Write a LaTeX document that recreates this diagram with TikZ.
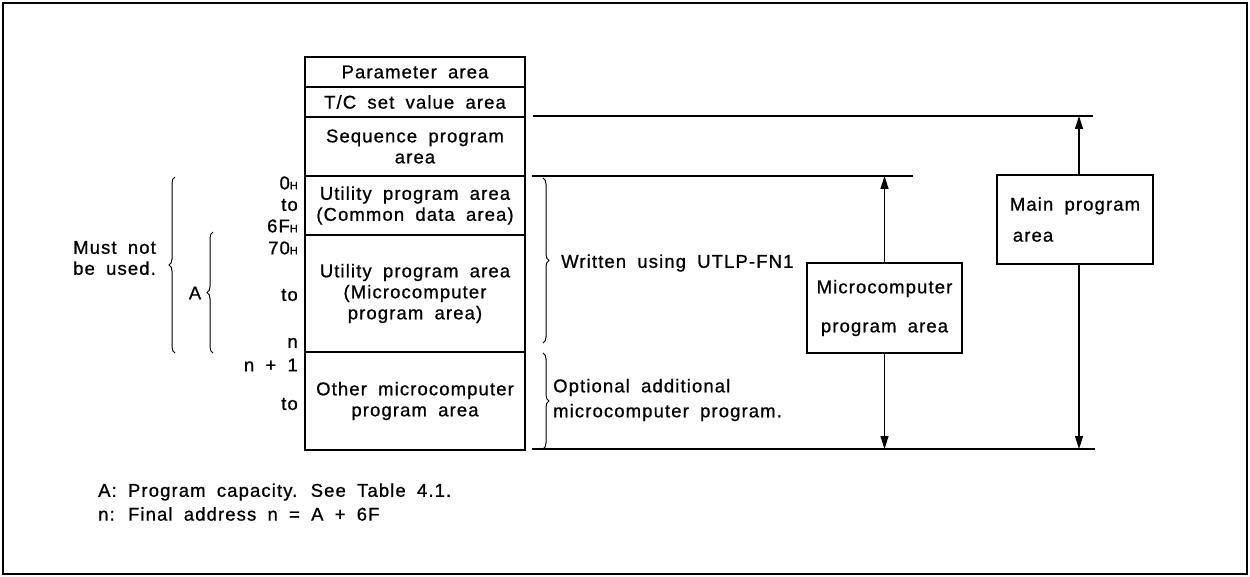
\documentclass[tikz,border=0pt]{standalone}
\usepackage{fontspec}
\setmainfont[LetterSpace=6,WordSpace=1.8,FakeBold=0.8]{Liberation Sans}
\usetikzlibrary{arrows.meta,decorations.pathreplacing}

% small subscript H used for hexadecimal addresses
\newcommand\hexH{{\fontsize{11}{11}\selectfont H}}

\begin{document}
\begin{tikzpicture}[x=1pt,y=-1pt,
  every node/.style={font=\fontsize{18.5}{21}\selectfont, inner sep=0pt},
  memrow/.style={draw, line width=2.2pt, minimum width=220pt, align=center},
  areabox/.style={draw, line width=2pt},
  guide/.style={line width=1.3pt},
  dimarrow/.style={line width=1.3pt, -{Triangle[length=13pt,width=8pt]}},
  curly/.style={line width=1pt, decorate, decoration={brace, amplitude=6pt}},
  addr/.style={anchor=east},
  note/.style={anchor=west, align=left},
]
\useasboundingbox (0,0) rectangle (1250,577);
\draw[line width=1.5pt] (3,3) rectangle (1247,574);

% memory map column
\node[memrow, minimum height=30pt]  (param)  at (415,72)    {Parameter area};
\node[memrow, minimum height=30pt]  (tc)     at (415,102)   {T/C set value area};
\node[memrow, minimum height=59pt]  (seq)    at (415,146.5) {Sequence program\\area};
\node[memrow, minimum height=59pt]  (util)   at (415,205.5) {Utility program area\\(Common data area)};
\node[memrow, minimum height=117pt] (micarea) at (415,293.5) {Utility program area\\(Microcomputer\\program area)};
\node[memrow, minimum height=98pt]  (other)  at (415,401)   {Other microcomputer\\program area};

% addresses
\node[addr] (a0)  at (298,183) {0\hexH};
\node[addr] (a1)  at (298,205) {to};
\node[addr] (a2)  at (298,226) {6F\hexH};
\node[addr] (a3)  at (298,248) {70\hexH};
\node[addr] (a4)  at (298,295) {to};
\node[addr] (a5)  at (298,343) {n};
\node[addr] (a6)  at (298,365) {n + 1};
\node[addr] (a7)  at (298,404) {to};

% left braces
\draw[curly] (175,353) -- (175,177);
\draw[curly] (213,353) -- (213,232);
\node[note] (mustnot) at (73,258) {Must not\\be used.};
\node (capA) at (195,293) {A};

% right braces
\draw[curly] (543,178) -- (543,343);
\draw[curly] (543,353) -- (543,449);
\node[note] (written) at (561,263) {Written using UTLP-FN1};
\node[note, font=\fontsize{18.5}{25}\selectfont] (optional) at (553,400) {Optional additional\\microcomputer program.};

% extent lines
\coordinate (mtopL) at (533,116); \coordinate (mtopR) at (1093,116);
\coordinate (ctopL) at (532,176); \coordinate (ctopR) at (913,176);
\coordinate (botL)  at (532,449); \coordinate (botR)  at (1095,449);
\draw[guide] (mtopL) -- (mtopR);
\draw[guide] (ctopL) -- (ctopR);
\draw[guide] (botL) -- (botR);

% range boxes
\node[areabox, minimum width=155pt, minimum height=90pt, align=center] (micro) at (884.5,308)
  {Microcomputer\\[18pt]program area};
\node[areabox, minimum width=156pt, minimum height=89pt, align=left] (main) at (1075,219.5)
  {Main program\\[10pt]\hspace*{3pt}area};

\coordinate (mainaxis) at (1079,0);
\draw[dimarrow] (micro.north) -- (micro.north |- ctopL);
\draw[dimarrow] (micro.south) -- (micro.south |- botL);
\draw[dimarrow] (main.north -| mainaxis) -- (mainaxis |- mtopL);
\draw[dimarrow] (main.south -| mainaxis) -- (mainaxis |- botL);

% footnotes
\node[note] (fnA) at (98,492) {A: Program capacity. See Table 4.1.};
\node[note] (fnN) at (98,514) {n: Final address n = A + 6F};
\end{tikzpicture}
\end{document}
